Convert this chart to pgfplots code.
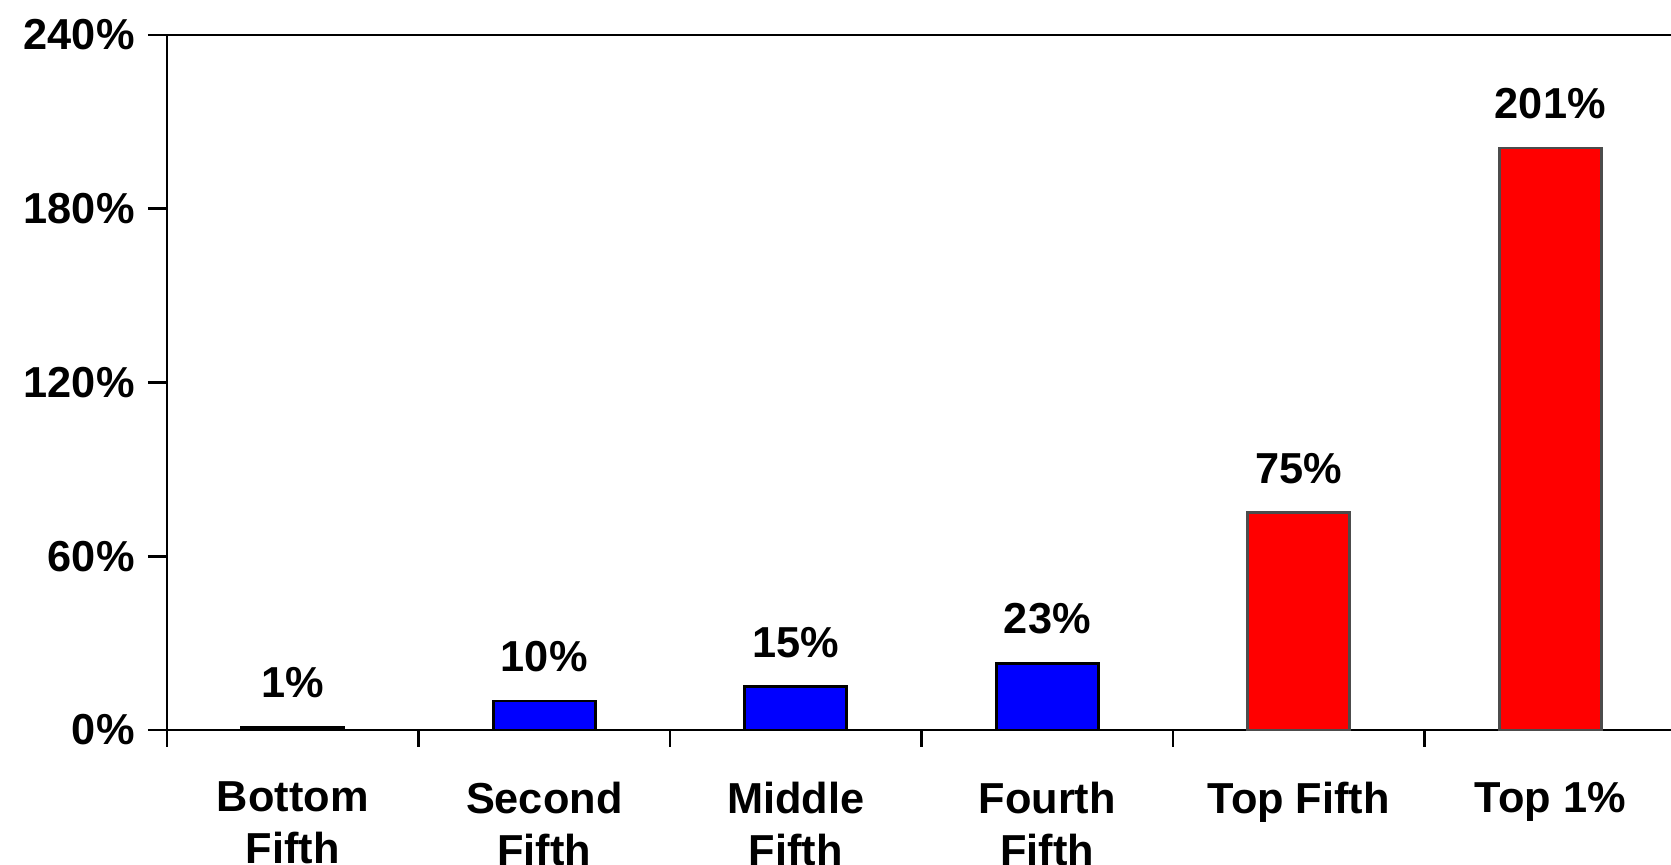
\documentclass[border=0pt]{standalone}
\usepackage{pgfplots}
\pgfplotsset{compat=1.18}
\usepackage{fontspec}
\setmainfont{Liberation Sans}

\begin{document}
\begin{tikzpicture}
\begin{axis}[
  name=ax,
  scale only axis,
  width=451.2pt, height=208.5pt,
  ybar, bar width=30.6pt,
  xmin=-0.5, xmax=5.48,
  ymin=0, ymax=240,
  axis x line*=bottom, axis y line*=left,
  axis line style={black, line width=0.8pt},
  xtick={0,1,2,3,4,5},
  xticklabels={{Bottom\\Fifth},{Second\\Fifth},{Middle\\Fifth},{Fourth\\Fifth},{Top Fifth},{Top 1\%}},
  xtick style={draw=none},
  minor xtick={-0.5,0.5,1.5,2.5,3.5,4.5},
  minor x tick style={draw=black, line width=0.8pt},
  ytick={0,60,120,180,240},
  yticklabel={\pgfmathprintnumber{\tick}\%},
  ytick style={black, line width=0.8pt},
  tick align=outside,
  major tick length=5.7pt, minor tick length=5pt,
  /pgf/number format/assume math mode=true,
  tick label style={font=\bfseries\fontsize{13}{16.8}\selectfont},
  xticklabel style={align=center, anchor=north,
    font=\bfseries\fontsize{13}{15.5}\selectfont, yshift=-6.4pt},
  yticklabel style={xshift=-0.5pt},
  nodes near coords={\pgfmathprintnumber{\pgfplotspointmeta}\%},
  every node near coord/.append style={font=\bfseries\fontsize{13}{16.8}\selectfont, black, yshift=5pt},
  clip=false,
]
\addplot[bar shift=0pt, fill=black, draw=black, line width=0.8pt] coordinates {
  (0,1)
};
\addplot[bar shift=0pt, fill=blue, draw=black, line width=0.8pt] coordinates {
  (1,10) (2,15) (3,23)
};
\addplot[bar shift=0pt, fill=red, draw=black!70, line width=0.8pt] coordinates {
  (4,75) (5,201)
};
\draw[black, line width=0.8pt] (rel axis cs:0,1) -- (rel axis cs:1,1);
\end{axis}
\pgfresetboundingbox
\path ([xshift=-50.1pt,yshift=10.5pt]ax.north west) rectangle ([yshift=-40.5pt]ax.south east);
\end{tikzpicture}
\end{document}
